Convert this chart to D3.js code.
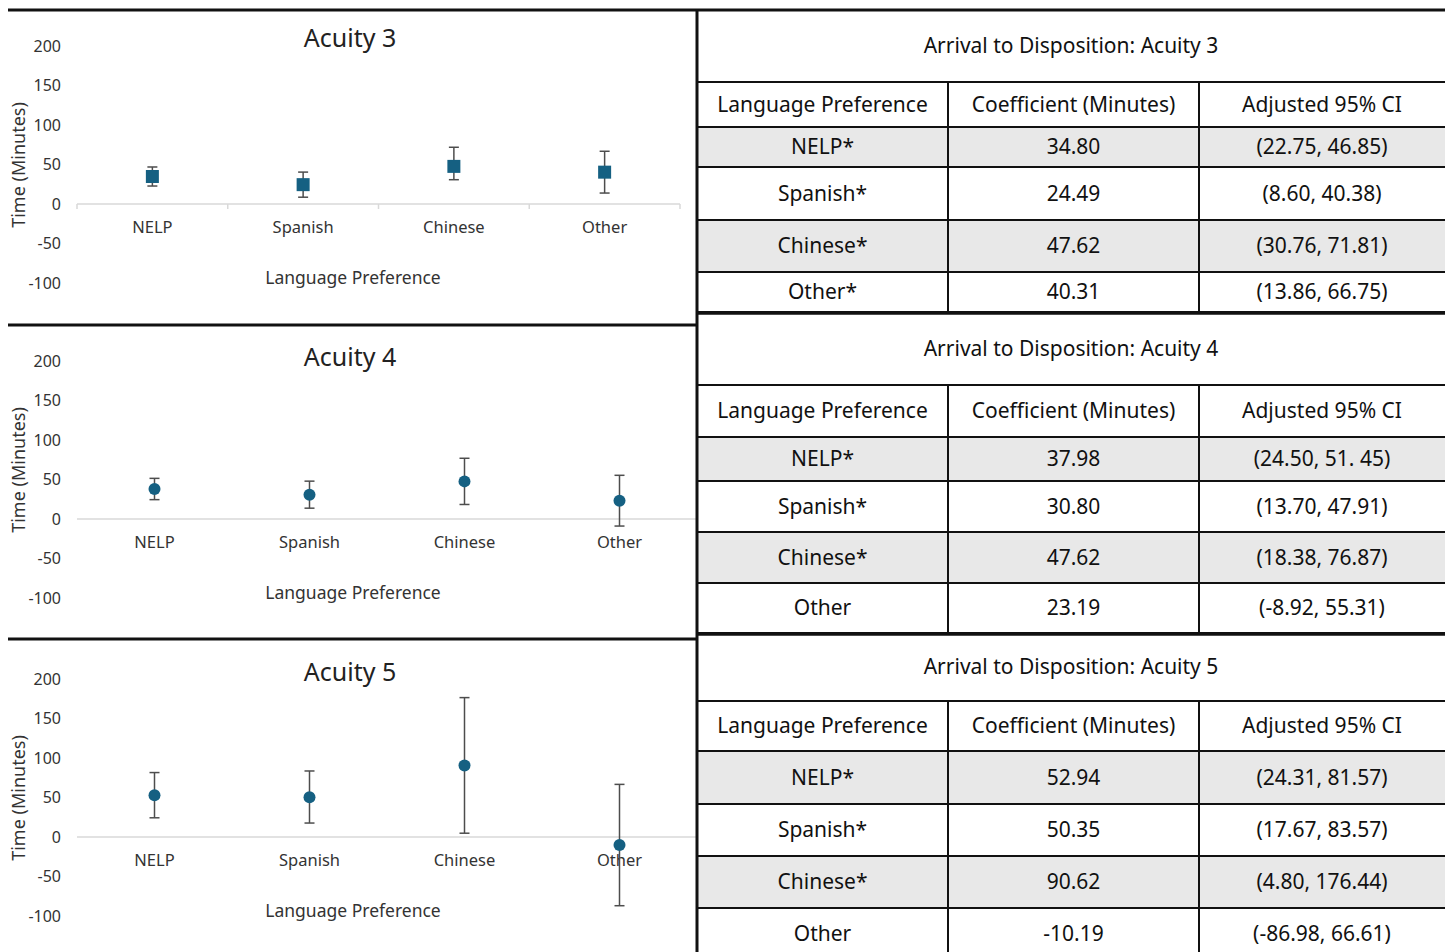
<!DOCTYPE html>
<html lang="en">
<head>
    <meta charset="UTF-8">
    <title>Arrival to Disposition by Language Preference</title>
    <script src="https://d3js.org/d3.v7.min.js"></script>
    <style>
        body { margin: 0; background: #fff; }
        svg { display: block; font-family: "Noto Sans", Arial, sans-serif; }
        .tick-label { font-size: 16px; fill: #333; }
        .cat-label { font-size: 16.5px; fill: #333; }
        .axis-title { font-size: 17.5px; fill: #333; }
        .y-title { font-size: 18px; fill: #333; }
        .chart-title { font-size: 25px; fill: #222; }
        .cell { font-size: 21px; fill: #111; }
        .table-title { font-size: 21px; fill: #111; }
    </style>
</head>
<body>
<div id="chart"></div>
<script>
    // data
    const categories = ["NELP", "Spanish", "Chinese", "Other"];
    const acuityTitles = ["Acuity 3", "Acuity 4", "Acuity 5"];
    const yTicks = [-100, -50, 0, 50, 100, 150, 200];

    const coef3 = [34.80, 24.49, 47.62, 40.31];
    const low3  = [22.75, 8.60, 30.76, 13.86];
    const high3 = [46.85, 40.38, 71.81, 66.75];

    const coef4 = [37.98, 30.80, 47.62, 23.19];
    const low4  = [24.50, 13.70, 18.38, -8.92];
    const high4 = [51.45, 47.91, 76.87, 55.31];

    const coef5 = [52.94, 50.35, 90.62, -10.19];
    const low5  = [24.31, 17.67, 4.80, -86.98];
    const high5 = [81.57, 83.57, 176.44, 66.61];

    const tableHeaders = ["Language Preference", "Coefficient (Minutes)", "Adjusted 95% CI"];
    const rowLabels3 = ["NELP*", "Spanish*", "Chinese*", "Other*"];
    const rowLabels4 = ["NELP*", "Spanish*", "Chinese*", "Other"];
    const rowLabels5 = ["NELP*", "Spanish*", "Chinese*", "Other"];
    // CI text as printed (keeps the stray space in "51. 45")
    const ciText3 = ["(22.75, 46.85)", "(8.60, 40.38)", "(30.76, 71.81)", "(13.86, 66.75)"];
    const ciText4 = ["(24.50, 51. 45)", "(13.70, 47.91)", "(18.38, 76.87)", "(-8.92, 55.31)"];
    const ciText5 = ["(24.31, 81.57)", "(17.67, 83.57)", "(4.80, 176.44)", "(-86.98, 66.61)"];

    const W = 1445, H = 952;
    const markerColor = "#156082";
    const barColor = "#4d4d4d";

    const svg = d3.select("#chart").append("svg")
        .attr("width", W)
        .attr("height", H);

    // chart panels (layout only)
    const panels = [
        { title: acuityTitles[0], coef: coef3, low: low3, high: high3, top: 46, bottom: 283, xEnd: 680, square: true, tickMarks: true, titleY: 38, yTitleY: 165 },
        { title: acuityTitles[1], coef: coef4, low: low4, high: high4, top: 361, bottom: 598, xEnd: 697, square: false, tickMarks: false, titleY: 357, yTitleY: 470 },
        { title: acuityTitles[2], coef: coef5, low: low5, high: high5, top: 679, bottom: 916, xEnd: 697, square: false, tickMarks: false, titleY: 672, yTitleY: 798 }
    ];

    panels.forEach(p => {
        const g = svg.append("g");
        const y = d3.scaleLinear().domain([-100, 200]).range([p.bottom, p.top]);
        const x = d3.scaleBand().domain(categories).range([77, p.xEnd]);

        // y tick labels only (no axis line)
        g.selectAll(".tick-label")
            .data(yTicks)
            .join("text")
            .attr("class", "tick-label")
            .attr("x", 61)
            .attr("y", d => y(d))
            .attr("dy", "0.35em")
            .attr("text-anchor", "end")
            .text(d => d);

        // zero line as horizontal axis
        g.append("line")
            .attr("x1", 77).attr("x2", p.xEnd)
            .attr("y1", y(0)).attr("y2", y(0))
            .attr("stroke", "#d9d9d9").attr("stroke-width", 1.5);

        if (p.tickMarks) {
            const bounds = categories.map(c => x(c)).concat([p.xEnd]);
            g.selectAll(".xtick")
                .data(bounds)
                .join("line")
                .attr("x1", d => d).attr("x2", d => d)
                .attr("y1", y(0)).attr("y2", y(0) + 5)
                .attr("stroke", "#d9d9d9").attr("stroke-width", 1.5);
        }

        g.selectAll(".cat-label")
            .data(categories)
            .join("text")
            .attr("class", "cat-label")
            .attr("x", d => x(d) + x.bandwidth() / 2)
            .attr("y", y(0) + 23)
            .attr("dy", "0.35em")
            .attr("text-anchor", "middle")
            .text(d => d);

        // error bars
        const bars = g.selectAll(".err")
            .data(categories)
            .join("g")
            .attr("transform", d => `translate(${x(d) + x.bandwidth() / 2},0)`);
        bars.append("line")
            .attr("y1", (d, i) => y(p.low[i])).attr("y2", (d, i) => y(p.high[i]))
            .attr("stroke", barColor).attr("stroke-width", 1.5);
        bars.append("line")
            .attr("x1", -5).attr("x2", 5)
            .attr("y1", (d, i) => y(p.low[i])).attr("y2", (d, i) => y(p.low[i]))
            .attr("stroke", barColor).attr("stroke-width", 1.5);
        bars.append("line")
            .attr("x1", -5).attr("x2", 5)
            .attr("y1", (d, i) => y(p.high[i])).attr("y2", (d, i) => y(p.high[i]))
            .attr("stroke", barColor).attr("stroke-width", 1.5);

        if (p.square) {
            bars.append("rect")
                .attr("x", -6.5).attr("width", 13)
                .attr("y", (d, i) => y(p.coef[i]) - 6.5).attr("height", 13)
                .attr("fill", markerColor);
        } else {
            bars.append("circle")
                .attr("cy", (d, i) => y(p.coef[i]))
                .attr("r", 6)
                .attr("fill", markerColor);
        }

        g.append("text")
            .attr("class", "chart-title")
            .attr("x", 350).attr("y", p.titleY)
            .attr("dy", "0.35em")
            .attr("text-anchor", "middle")
            .text(p.title);

        g.append("text")
            .attr("class", "axis-title")
            .attr("x", 353).attr("y", y(0) + 74)
            .attr("dy", "0.35em")
            .attr("text-anchor", "middle")
            .text("Language Preference");

        g.append("text")
            .attr("class", "y-title")
            .attr("transform", `translate(19,${p.yTitleY}) rotate(-90)`)
            .attr("dy", "0.35em")
            .attr("text-anchor", "middle")
            .text("Time (Minutes)");
    });

    // tables
    const colX = [697, 948, 1199, 1445];
    const tables = [
        { title: "Arrival to Disposition: Acuity 3", labels: rowLabels3, coef: coef3, ci: ciText3, rows: [9, 82, 127, 167, 220, 272, 312] },
        { title: "Arrival to Disposition: Acuity 4", labels: rowLabels4, coef: coef4, ci: ciText4, rows: [313, 385, 437, 481, 532, 583, 633] },
        { title: "Arrival to Disposition: Acuity 5", labels: rowLabels5, coef: coef5, ci: ciText5, rows: [633, 701, 751, 804, 856, 908, 960] }
    ];

    tables.forEach(t => {
        const g = svg.append("g");
        const r = t.rows;

        // shaded rows (1st and 3rd data rows)
        [0, 2].forEach(i => {
            g.append("rect")
                .attr("x", colX[0]).attr("width", colX[3] - colX[0])
                .attr("y", r[i + 2]).attr("height", r[i + 3] - r[i + 2])
                .attr("fill", "#e8e8e8");
        });

        g.append("text")
            .attr("class", "table-title")
            .attr("x", (colX[0] + colX[3]) / 2).attr("y", (r[0] + r[1]) / 2)
            .attr("dy", "0.35em")
            .attr("text-anchor", "middle")
            .text(t.title);

        const cellRows = [tableHeaders].concat(t.labels.map((l, i) => [l, t.coef[i].toFixed(2), t.ci[i]]));
        cellRows.forEach((row, ri) => {
            row.forEach((txt, ci) => {
                g.append("text")
                    .attr("class", "cell")
                    .attr("x", (colX[ci] + colX[ci + 1]) / 2)
                    .attr("y", (r[ri + 1] + r[ri + 2]) / 2)
                    .attr("dy", "0.35em")
                    .attr("text-anchor", "middle")
                    .text(txt);
            });
        });

        // horizontal rules
        r.slice(1).forEach(yy => {
            g.append("line")
                .attr("x1", colX[0]).attr("x2", W)
                .attr("y1", yy).attr("y2", yy)
                .attr("stroke", "#111").attr("stroke-width", 2);
        });
        // column rules below the title row
        [colX[1], colX[2]].forEach(xx => {
            g.append("line")
                .attr("x1", xx).attr("x2", xx)
                .attr("y1", r[1]).attr("y2", r[6])
                .attr("stroke", "#111").attr("stroke-width", 2);
        });
    });

    // thicker separators between tables
    [312, 633].forEach(yy => {
        svg.append("line")
            .attr("x1", 697).attr("x2", W)
            .attr("y1", yy + 1).attr("y2", yy + 1)
            .attr("stroke", "#111").attr("stroke-width", 3.5);
    });

    // panel frame
    svg.append("line").attr("x1", 8).attr("x2", W).attr("y1", 10).attr("y2", 10)
        .attr("stroke", "#111").attr("stroke-width", 3);
    [325, 639].forEach(yy => {
        svg.append("line").attr("x1", 8).attr("x2", 697).attr("y1", yy).attr("y2", yy)
            .attr("stroke", "#111").attr("stroke-width", 3);
    });
    svg.append("line").attr("x1", 697).attr("x2", 697).attr("y1", 9).attr("y2", H)
        .attr("stroke", "#111").attr("stroke-width", 3);
</script>
</body>
</html>
